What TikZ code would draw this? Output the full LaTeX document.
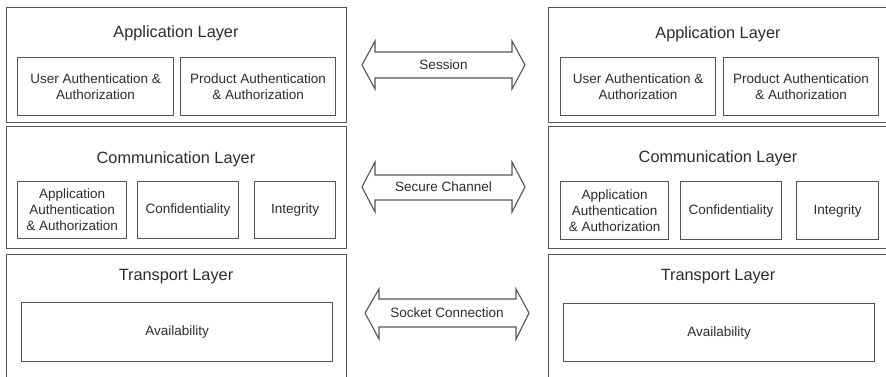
\documentclass[tikz,border=0pt]{standalone}
\usepackage{fontspec}
\setmainfont{Liberation Sans}
\definecolor{lc}{RGB}{85,85,85}
\definecolor{tc}{RGB}{45,45,45}
\begin{document}
\begin{tikzpicture}[x=1pt,y=-1pt,
  outerbox/.style 2 args={draw=lc, line width=1.1pt, rectangle, inner sep=0pt, anchor=north west, minimum width=#1, minimum height=#2},
  innerbox/.style 2 args={draw=lc, line width=1.1pt, rectangle, inner sep=0pt, anchor=north west, minimum width=#1, minimum height=#2, align=center, text=tc, font=\fontsize{13.5}{16}\selectfont},
  title/.style={text=tc, font=\fontsize{16.3}{19}\selectfont, inner sep=0pt},
  arrowlbl/.style={text=tc, font=\fontsize{13.5}{16}\selectfont, inner sep=0pt},
  dblarrow/.style={draw=lc, line width=1.1pt, fill=white, line join=miter}
]
\useasboundingbox[fill=white] (0,0) rectangle (886,376);

% ---------- Left stack ----------
\node[outerbox={340}{115}] (LA) at (6,7) {};
\node[title] (LAt) at (176,33) {Application Layer};
\node[innerbox={156}{58}] (LA1) at (17,57) {User Authentication \&\\Authorization};
\node[innerbox={155}{58}] (LA2) at (180,57) {Product Authentication\\\& Authorization};

\node[outerbox={340}{122}] (LC) at (6,126) {};
\node[title] (LCt) at (176,159) {Communication Layer};
\node[innerbox={109}{57}] (LC1) at (17,181) {Application\\Authentication\\\& Authorization};
\node[innerbox={101}{57}] (LC2) at (137,181) {Confidentiality};
\node[innerbox={81}{57}] (LC3) at (254,181) {Integrity};

\node[outerbox={340}{130}] (LT) at (6,254) {};
\node[title] (LTt) at (176,277) {Transport Layer};
\node[innerbox={311}{59}] (LT1) at (21,302) {Availability};

% ---------- Right stack ----------
\node[outerbox={342}{115}] (RA) at (548,7) {};
\node[title] (RAt) at (718,34) {Application Layer};
\node[innerbox={155}{58}] (RA1) at (560,57) {User Authentication \&\\Authorization};
\node[innerbox={155}{58}] (RA2) at (723,57) {Product Authentication\\\& Authorization};

\node[outerbox={342}{122}] (RC) at (548,126) {};
\node[title] (RCt) at (718,158) {Communication Layer};
\node[innerbox={108}{58}] (RC1) at (560,181) {Application\\Authentication\\\& Authorization};
\node[innerbox={101}{58}] (RC2) at (680,181) {Confidentiality};
\node[innerbox={82}{58}] (RC3) at (796,181) {Integrity};

\node[outerbox={342}{130}] (RT) at (548,254) {};
\node[title] (RTt) at (718,277) {Transport Layer};
\node[innerbox={311}{58}] (RT1) at (563,303) {Availability};

% ---------- Double arrows ----------
\draw[dblarrow] (362,65) -- (375,41) -- (375,52) -- (512,52) -- (512,41) -- (525,65)
  -- (512,89) -- (512,78) -- (375,78) -- (375,89) -- cycle;
\node[arrowlbl] (S1) at (443.5,65) {Session};

\draw[dblarrow] (362,187) -- (375,162) -- (375,175) -- (512,175) -- (512,162) -- (525,187)
  -- (512,212) -- (512,200) -- (375,200) -- (375,212) -- cycle;
\node[arrowlbl] (S2) at (443.5,187) {Secure Channel};

\draw[dblarrow] (365,313) -- (379,289) -- (379,299) -- (516,299) -- (516,289) -- (529,313)
  -- (516,339) -- (516,327) -- (379,327) -- (379,339) -- cycle;
\node[arrowlbl] (S3) at (447,313) {Socket Connection};
\end{tikzpicture}
\end{document}
